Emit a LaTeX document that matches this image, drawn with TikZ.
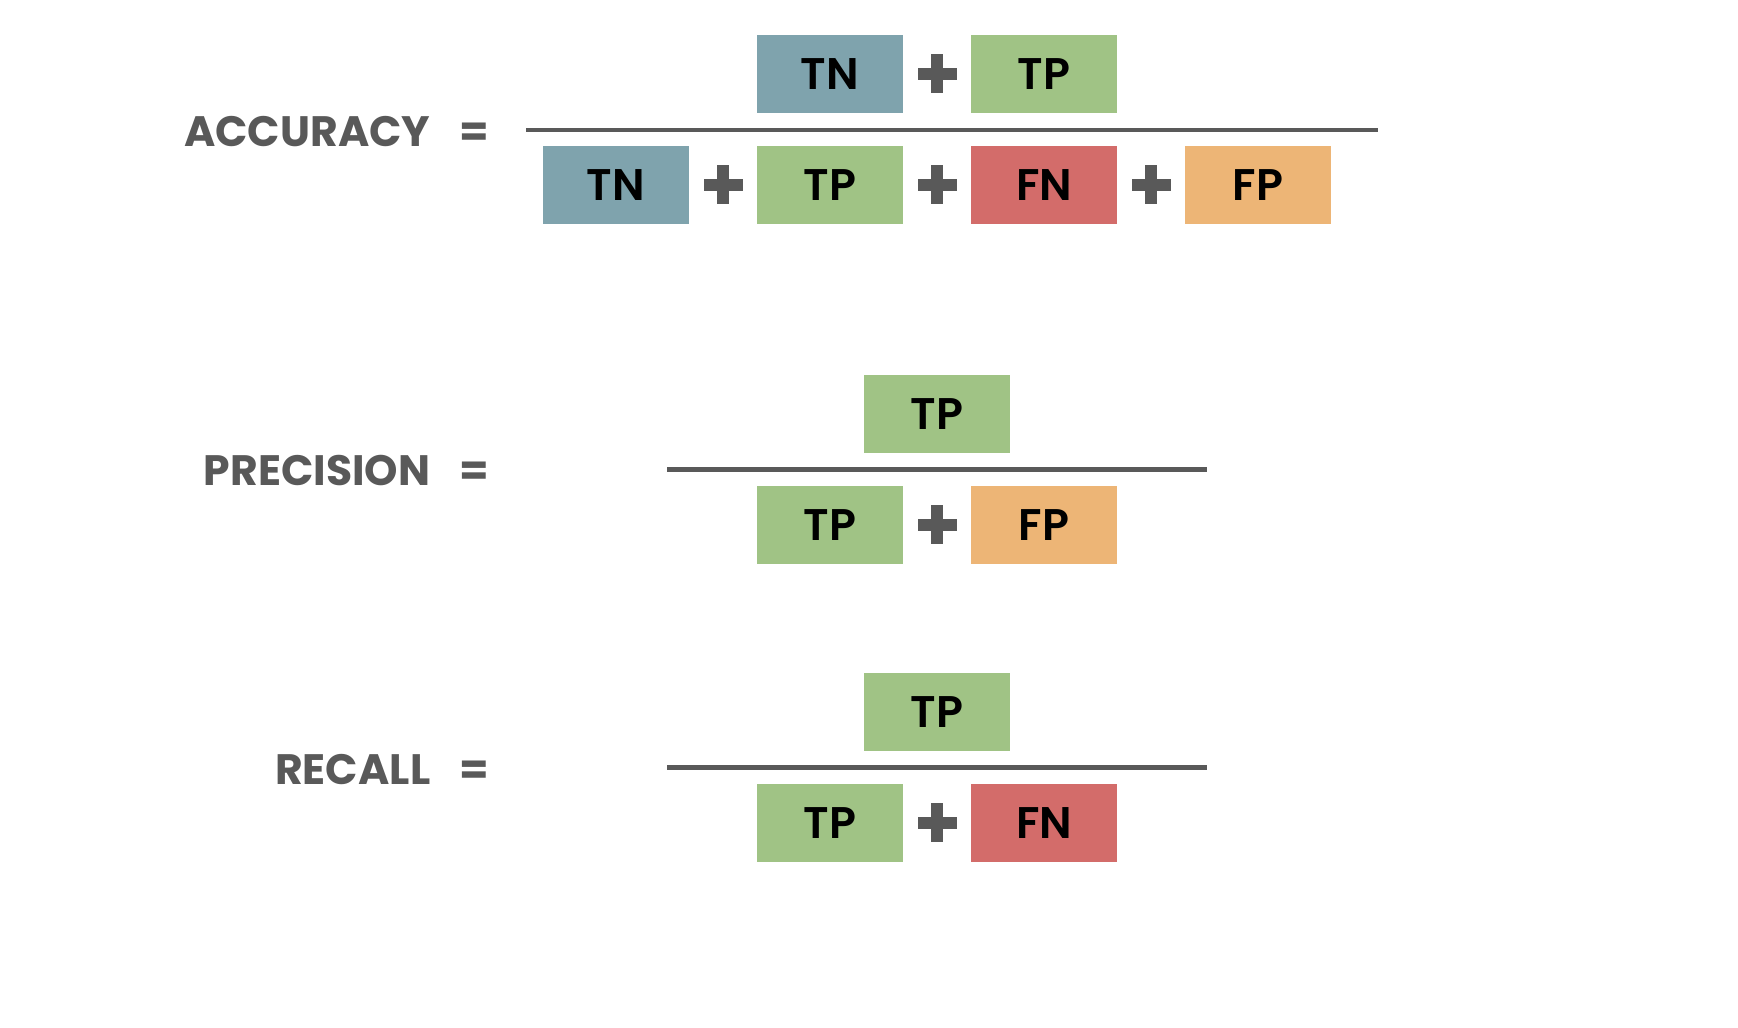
\documentclass[tikz,border=0pt]{standalone}
\usepackage{fontspec}
\setmainfont{Poppins}
\newfontfamily\cellfont{Poppins SemiBold}
\usepackage{xcolor}
\definecolor{metricink}{HTML}{595959}
\definecolor{tncolor}{HTML}{7FA3AD}
\definecolor{tpcolor}{HTML}{A0C385}
\definecolor{fncolor}{HTML}{D36C6A}
\definecolor{fpcolor}{HTML}{EDB576}

\begin{document}
\begin{tikzpicture}[x=1cm, y=1cm,
                    every node/.style={font=\fontsize{12.1}{15}\selectfont\bfseries},
                    metric/.style={metricink, anchor=east, inner sep=0pt},
                    equal/.style={metricink, inner sep=0pt},
                    cell/.style={minimum width=1.46cm, minimum height=0.78cm,
                                 inner sep=0pt, text=black,
                                 font=\fontsize{12.6}{15}\selectfont\cellfont},
                    tn/.style={cell, fill=tncolor},
                    tp/.style={cell, fill=tpcolor},
                    fn/.style={cell, fill=fncolor},
                    fp/.style={cell, fill=fpcolor},
                    bar/.style={metricink, line width=1.3pt}]

  \useasboundingbox (0,0) rectangle (17.38,10.28);

  %% ACCURACY = (TN + TP) / (TN + TP + FN + FP)
  \node[metric] (acc)   at (4.31,8.96) {ACCURACY};
  \node[equal]  (acceq) at (4.74,8.93) {=};
  \coordinate (accl) at (5.26,8.98);
  \coordinate (accr) at (13.78,8.98);
  \draw[bar] (accl) -- (accr);
  \node[tn] (acctn)  at (8.30,9.54) {TN};
  \node[tp] (acctp)  at (10.44,9.54) {TP};
  \node[tn] (acctn2) at (6.16,8.43) {TN};
  \node[tp] (acctp2) at (8.30,8.43) {TP};
  \node[fn] (accfn2) at (10.44,8.43) {FN};
  \node[fp] (accfp2) at (12.58,8.43) {FP};

  %% PRECISION = TP / (TP + FP)
  \node[metric] (pre)   at (4.31,5.575) {PRECISION};
  \node[equal]  (preeq) at (4.74,5.545) {=};
  \coordinate (prel) at (6.67,5.585);
  \coordinate (prer) at (12.07,5.585);
  \draw[bar] (prel) -- (prer);
  \node[tp] (pretp)  at (9.37,6.14) {TP};
  \node[tp] (pretp2) at (8.30,5.03) {TP};
  \node[fp] (prefp2) at (10.44,5.03) {FP};

  %% RECALL = TP / (TP + FN)
  \node[metric] (rec)   at (4.31,2.58) {RECALL};
  \node[equal]  (receq) at (4.74,2.55) {=};
  \coordinate (recl) at (6.67,2.605);
  \coordinate (recr) at (12.07,2.605);
  \draw[bar] (recl) -- (recr);
  \node[tp] (rectp)  at (9.37,3.16) {TP};
  \node[tp] (rectp2) at (8.30,2.05) {TP};
  \node[fn] (recfn2) at (10.44,2.05) {FN};

  %% plus signs between the cells
  \foreach \px/\py in {9.37/9.54, 7.23/8.43, 9.37/8.43, 11.51/8.43,
                       9.37/5.03, 9.37/2.05} {
    \fill[metricink] ({\px-0.195},{\py-0.06}) rectangle ({\px+0.195},{\py+0.06});
    \fill[metricink] ({\px-0.06},{\py-0.195}) rectangle ({\px+0.06},{\py+0.195});
  }

\end{tikzpicture}
\end{document}
